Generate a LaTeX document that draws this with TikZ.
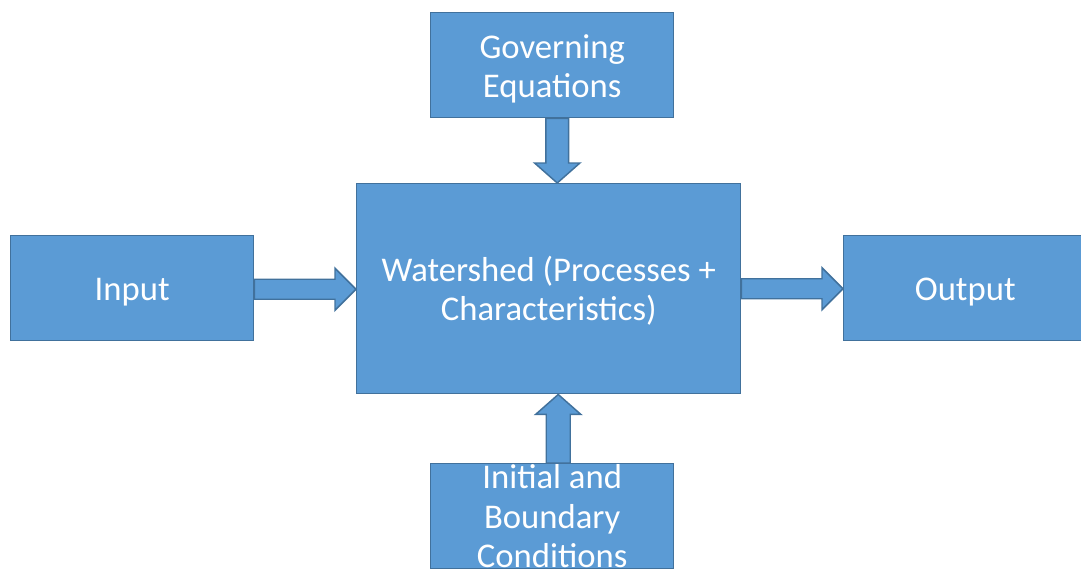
\documentclass[tikz,border=0pt]{standalone}
\usepackage{fontspec}
\setmainfont{Carlito}
\usetikzlibrary{calc}
\definecolor{boxfill}{HTML}{5B9BD5}
\definecolor{boxline}{HTML}{41719C}
\tikzset{
  blk/.style={draw=boxline, fill=boxfill, line width=1.1pt, text=white, align=center,
    font=\fontsize{26}{29.5}\selectfont, inner sep=0pt, anchor=north west,
    execute at begin node={\rule{0pt}{22.5pt}}},
  barrow/.style={draw=boxline, fill=boxfill, line width=1.1pt, line join=miter}
}
\begin{document}
\begin{tikzpicture}[x=0.75pt,y=-0.75pt]
\useasboundingbox (0,0) rectangle (1081,571);
\node[blk, minimum width=182.25pt, minimum height=78.75pt] (gov) at (430,12) {\rule{0pt}{23pt}Governing\\Equations};
\node[blk, minimum width=288pt, minimum height=157.5pt] (ws) at (356,183) {\rule{0pt}{22pt}Watershed (Processes +\\Characteristics)};
\node[blk, minimum width=182.25pt, minimum height=78.75pt] (in) at (10,235) {Input};
\node[blk, minimum width=182.25pt, minimum height=78.75pt] (out) at (843,235) {Output};
\node[blk, minimum width=182.25pt, minimum height=78.75pt] (ibc) at (430,463) {Initial and\\Boundary\\Conditions};
% left arrow
\draw[barrow] let \p1=(in.east), \p2=(ws.west) in
  (\x1,\y1-0.75pt-7.5pt) -- (\x2-15.75pt,\y1-0.75pt-7.5pt) -- (\x2-15.75pt,\y1-0.75pt-15.75pt)
  -- (\x2,\y1-0.75pt) -- (\x2-15.75pt,\y1-0.75pt+15.75pt) -- (\x2-15.75pt,\y1-0.75pt+7.5pt)
  -- (\x1,\y1-0.75pt+7.5pt) -- cycle;
% right arrow
\draw[barrow] let \p1=(ws.east), \p2=(out.west) in
  (\x1,\y1+7.5pt) -- (\x2-15.75pt,\y1+7.5pt) -- (\x2-15.75pt,\y1+15.75pt)
  -- (\x2,\y1) -- (\x2-15.75pt,\y1-15.75pt) -- (\x2-15.75pt,\y1-7.5pt)
  -- (\x1,\y1-7.5pt) -- cycle;
% top arrow
\draw[barrow] let \p1=(gov.south), \p2=(ws.north) in
  (\x1+3.75pt-8.6pt,\y1) -- (\x1+3.75pt-8.6pt,\y2+15pt) -- (\x1+3.75pt-17pt,\y2+15pt)
  -- (\x1+3.75pt,\y2) -- (\x1+3.75pt+17pt,\y2+15pt) -- (\x1+3.75pt+8.6pt,\y2+15pt)
  -- (\x1+3.75pt+8.6pt,\y1) -- cycle;
% bottom arrow
\draw[barrow] let \p1=(ibc.north), \p2=(ws.south) in
  (\x1+4.5pt-9pt,\y1) -- (\x1+4.5pt-9pt,\y2-15pt) -- (\x1+4.5pt-17pt,\y2-15pt)
  -- (\x1+4.5pt,\y2) -- (\x1+4.5pt+17pt,\y2-15pt) -- (\x1+4.5pt+9pt,\y2-15pt)
  -- (\x1+4.5pt+9pt,\y1) -- cycle;
\end{tikzpicture}
\end{document}
